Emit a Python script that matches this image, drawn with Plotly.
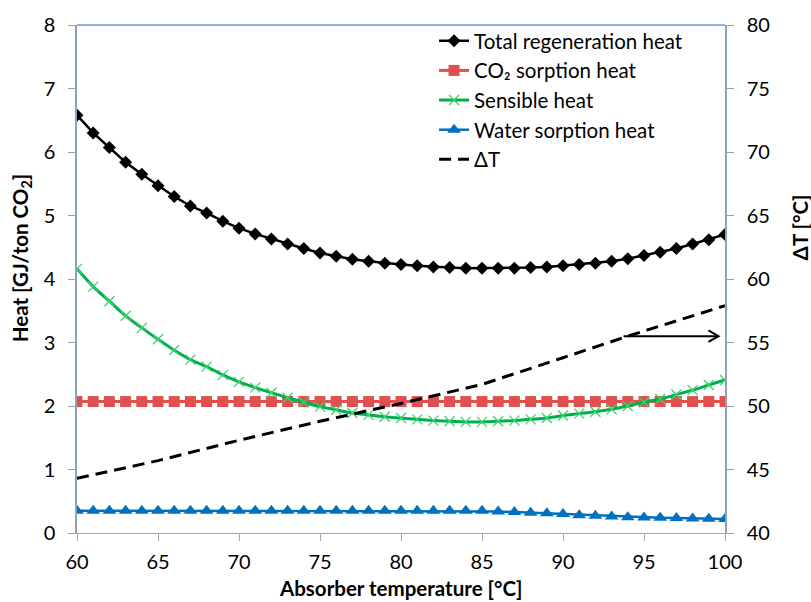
import plotly.graph_objects as go

# Absorber temperature [°C]
temperature = [60, 61, 62, 63, 64, 65, 66, 67, 68, 69,
               70, 71, 72, 73, 74, 75, 76, 77, 78, 79,
               80, 81, 82, 83, 84, 85, 86, 87, 88, 89,
               90, 91, 92, 93, 94, 95, 96, 97, 98, 99, 100]

# Heat duties [GJ/ton CO2]
total_heat = [6.58, 6.30, 6.07, 5.84, 5.65, 5.47, 5.30, 5.15, 5.04, 4.91,
              4.80, 4.71, 4.63, 4.55, 4.48, 4.41, 4.36, 4.31, 4.28, 4.25,
              4.23, 4.21, 4.19, 4.18, 4.17, 4.17, 4.17, 4.17, 4.18, 4.19,
              4.21, 4.23, 4.25, 4.28, 4.32, 4.37, 4.42, 4.48, 4.55, 4.62, 4.70]

co2_heat = [2.07, 2.07, 2.07, 2.07, 2.07, 2.07, 2.07, 2.07, 2.07, 2.07,
            2.07, 2.07, 2.07, 2.07, 2.07, 2.07, 2.07, 2.07, 2.07, 2.07,
            2.07, 2.07, 2.07, 2.07, 2.07, 2.07, 2.07, 2.07, 2.07, 2.07,
            2.07, 2.07, 2.07, 2.07, 2.07, 2.07, 2.07, 2.07, 2.07, 2.07, 2.07]

sensible_heat = [4.16, 3.88, 3.65, 3.42, 3.23, 3.05, 2.88, 2.73, 2.62, 2.49,
                 2.38, 2.29, 2.21, 2.13, 2.06, 1.99, 1.94, 1.89, 1.86, 1.83,
                 1.81, 1.79, 1.77, 1.76, 1.75, 1.75, 1.76, 1.77, 1.79, 1.81,
                 1.85, 1.88, 1.91, 1.95, 2.00, 2.06, 2.11, 2.18, 2.25, 2.33, 2.41]

water_heat = [0.35, 0.35, 0.35, 0.35, 0.35, 0.35, 0.35, 0.35, 0.35, 0.35,
              0.35, 0.35, 0.35, 0.35, 0.35, 0.35, 0.35, 0.35, 0.35, 0.35,
              0.35, 0.35, 0.35, 0.35, 0.35, 0.35, 0.34, 0.33, 0.32, 0.31,
              0.30, 0.28, 0.27, 0.26, 0.25, 0.245, 0.24, 0.235, 0.23, 0.225, 0.22]

# Temperature difference ΔT [°C] (secondary axis)
dt_temperature = [60, 65, 70, 75, 80, 85, 90, 94, 100]
delta_t = [44.3, 45.7, 47.3, 48.8, 50.2, 51.7, 53.8, 55.5, 57.9]

FONT = "Lato"
AXIS_BLUE = "#8FA3B6"
AXIS_GREY = "#A6A6A6"

fig = go.Figure()

fig.add_trace(go.Scatter(
    x=temperature, y=total_heat, name="Total regeneration heat",
    mode="lines+markers",
    line=dict(color="#000000", width=2.5),
    marker=dict(symbol="diamond", size=10, color="#000000"),
))
fig.add_trace(go.Scatter(
    x=temperature, y=co2_heat, name="CO₂ sorption heat",
    mode="lines+markers",
    line=dict(color="#E0504E", width=3),
    marker=dict(symbol="square", size=11, color="#E0504E"),
))
fig.add_trace(go.Scatter(
    x=temperature, y=sensible_heat, name="Sensible heat",
    mode="lines+markers",
    line=dict(color="#00B050", width=3, shape="spline"),
    marker=dict(symbol="x-thin", size=10,
                line=dict(color="#3DD36A", width=1.3)),
))
fig.add_trace(go.Scatter(
    x=temperature, y=water_heat, name="Water sorption heat",
    mode="lines+markers",
    line=dict(color="#0070C0", width=2.5),
    marker=dict(symbol="triangle-up", size=12, color="#0070C0"),
))
fig.add_trace(go.Scatter(
    x=dt_temperature, y=delta_t, name="ΔT", yaxis="y2",
    mode="lines",
    line=dict(color="#000000", width=3, dash="12px,7px"),
))

tick_font = dict(family=FONT, size=20, color="#000000")

fig.update_layout(
    width=811, height=602,
    margin=dict(l=77, r=86, t=21, b=69),
    paper_bgcolor="white", plot_bgcolor="white",
    font=dict(family=FONT, size=20, color="#000000"),
    showlegend=True,
    legend=dict(
        x=0.551, y=1.008, xanchor="left", yanchor="top",
        bgcolor="rgba(0,0,0,0)", borderwidth=0,
        font=dict(family=FONT, size=20.5, color="#000000"),
    ),
    xaxis=dict(
        range=[60, 100], dtick=5, tick0=60,
        showgrid=False, zeroline=False,
        showline=True, linecolor=AXIS_GREY, linewidth=1,
        ticks="outside", ticklen=7, tickcolor=AXIS_GREY,
        tickfont=tick_font, ticklabelstandoff=4,
    ),
    yaxis=dict(
        range=[0, 8], dtick=1, tick0=0,
        showgrid=False, zeroline=False,
        showline=True, linecolor=AXIS_BLUE, linewidth=1.5,
        ticks="outside", ticklen=7, tickcolor=AXIS_BLUE,
        tickfont=tick_font, ticklabelstandoff=9,
    ),
    yaxis2=dict(
        range=[40, 80], dtick=5, tick0=40,
        overlaying="y", side="right",
        showgrid=False, zeroline=False,
        showline=True, linecolor=AXIS_BLUE, linewidth=1.5,
        ticks="outside", ticklen=7, tickcolor=AXIS_BLUE,
        tickfont=tick_font, ticklabelstandoff=9,
    ),
    # inner halves of the crossing tick marks plus the minor ticks
    yaxis3=dict(
        range=[0, 8], dtick=1, tick0=0,
        overlaying="y", side="left", anchor="x",
        showgrid=False, zeroline=False, showline=False,
        showticklabels=False,
        ticks="inside", ticklen=7, tickcolor=AXIS_BLUE,
        minor=dict(dtick=0.5, ticks="inside", ticklen=6, tickcolor=AXIS_BLUE),
    ),
    yaxis4=dict(
        range=[40, 80], dtick=5, tick0=40,
        overlaying="y", side="right", anchor="x",
        showgrid=False, zeroline=False, showline=False,
        showticklabels=False,
        ticks="inside", ticklen=7, tickcolor=AXIS_BLUE,
        minor=dict(dtick=1, ticks="inside", ticklen=6, tickcolor=AXIS_BLUE),
    ),
)

# top frame line
fig.add_shape(type="line", xref="paper", yref="paper",
              x0=0, x1=1, y0=1, y1=1,
              line=dict(color="#5B9BD5", width=1.5))

# arrow pointing the ΔT curve to the secondary axis
arrow_y = 55.5
fig.add_shape(type="line", xref="x", yref="y2",
              x0=93.74, x1=99.6, y0=arrow_y, y1=arrow_y,
              line=dict(color="#000000", width=2))
fig.add_shape(type="path", xref="x", yref="y2",
              path=f"M 98.98 {arrow_y + 0.45} L 99.6 {arrow_y} L 98.98 {arrow_y - 0.45}",
              line=dict(color="#000000", width=2))

title_font = dict(family=FONT, size=20.5, color="#000000", weight="bold")
fig.add_annotation(text="Absorber temperature [°C]", xref="paper", yref="paper",
                   x=0.5, y=0, yshift=-55, showarrow=False, font=title_font,
                   xanchor="center", yanchor="middle")
fig.add_annotation(text="Heat [GJ/ton CO<sub>2</sub>]", xref="paper", yref="paper",
                   x=0, y=0.541, xshift=-56, showarrow=False, font=title_font,
                   textangle=-90, xanchor="center", yanchor="middle")
fig.add_annotation(text="ΔT [°C]", xref="paper", yref="paper",
                   x=1, y=0.6016, xshift=75, showarrow=False, font=title_font,
                   textangle=-90, xanchor="center", yanchor="middle")

fig.write_html("out.html")
